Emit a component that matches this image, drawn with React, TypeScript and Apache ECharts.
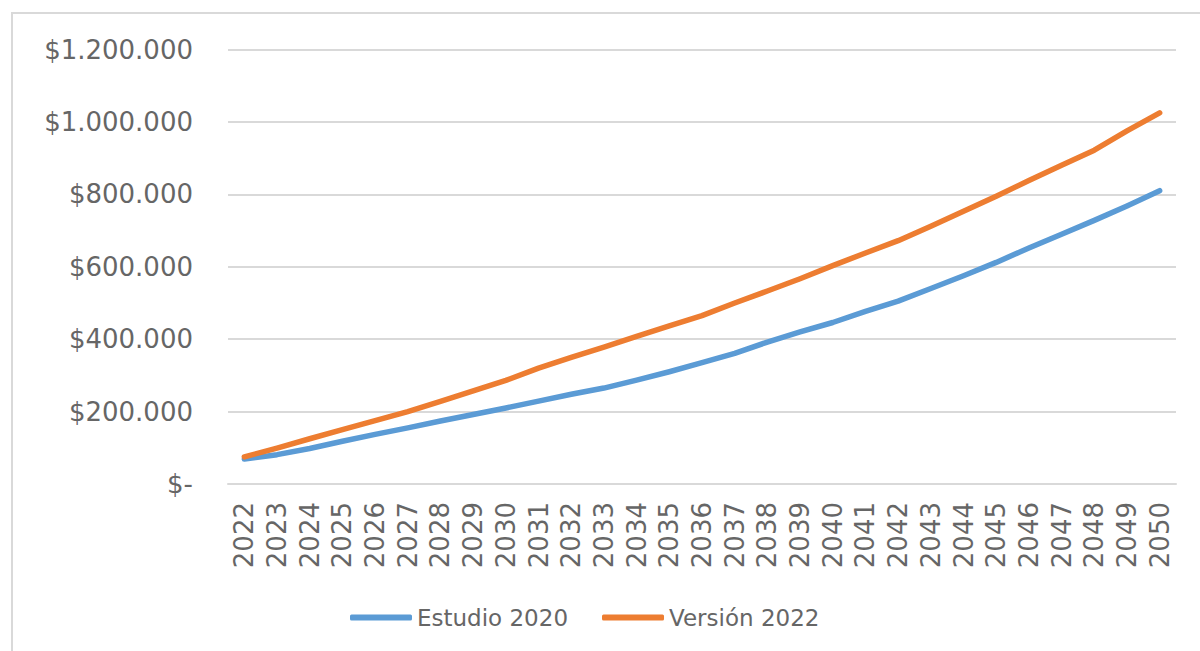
import React, { useEffect, useRef } from "react";
import * as echarts from "echarts";

const years = [
  "2022", "2023", "2024", "2025", "2026", "2027", "2028", "2029", "2030", "2031",
  "2032", "2033", "2034", "2035", "2036", "2037", "2038", "2039", "2040", "2041",
  "2042", "2043", "2044", "2045", "2046", "2047", "2048", "2049", "2050",
];

const estudio2020 = [
  69000, 81000, 98000, 118000, 137000, 155000, 174000, 192000, 210000, 229000,
  248000, 265000, 287000, 310000, 335000, 361000, 392000, 420000, 446000, 477000,
  505000, 540000, 575000, 612000, 652000, 690000, 728000, 768000, 810000,
];

const version2022 = [
  75000, 99000, 125000, 150000, 175000, 200000, 228000, 257000, 286000, 320000,
  350000, 378000, 408000, 437000, 465000, 500000, 533000, 567000, 603000, 638000,
  672000, 712000, 753000, 795000, 838000, 880000, 922000, 975000, 1025000,
];

const seriesNames = ["Estudio 2020", "Versión 2022"];
const yTicks = { min: 0, max: 1200000, interval: 200000 };

function fmt(v: number): string {
  if (v === 0) return "$-";
  const s = Math.round(v).toString().replace(/\B(?=(\d{3})+(?!\d))/g, ".");
  return "$" + s;
}

export default function App() {
  const ref = useRef<HTMLDivElement>(null);
  useEffect(() => {
    if (!ref.current) return;
    const chart = echarts.init(ref.current, null, { renderer: "svg" });
    const font = "DejaVu Sans";
    const gray = "#666666";
    chart.setOption({
      animation: false,
      backgroundColor: "#ffffff",
      graphic: [
        {
          type: "rect",
          shape: { x: 12, y: 13, width: 1200, height: 700 },
          style: { fill: "none", stroke: "#d9d9d9", lineWidth: 2 },
          silent: true,
        },
      ],
      grid: { left: 228, right: 24, top: 49.5, bottom: 167, containLabel: false },
      legend: {
        left: 345,
        top: 601,
        itemWidth: 62,
        itemHeight: 6,
        itemGap: 34,
        icon: "roundRect",
        data: seriesNames,
        textStyle: { fontFamily: font, fontSize: 23, color: gray },
      },
      xAxis: {
        type: "category",
        data: years,
        boundaryGap: true,
        axisLine: { show: true, lineStyle: { color: "#d9d9d9", width: 2 } },
        axisTick: { show: false },
        axisLabel: {
          rotate: 90,
          interval: 0,
          margin: 18,
          fontFamily: font,
          fontSize: 26,
          color: gray,
        },
      },
      yAxis: {
        type: "value",
        min: yTicks.min,
        max: yTicks.max,
        interval: yTicks.interval,
        axisLine: { show: false },
        axisTick: { show: false },
        splitLine: { lineStyle: { color: "#d9d9d9", width: 2 } },
        axisLabel: {
          margin: 35,
          fontFamily: font,
          fontSize: 26,
          color: gray,
          formatter: (v: number) => fmt(v),
        },
      },
      series: [
        {
          name: seriesNames[0],
          type: "line",
          data: estudio2020,
          symbol: "none",
          color: "#5B9BD5",
          lineStyle: { width: 5.5, color: "#5B9BD5", cap: "round", join: "round" },
        },
        {
          name: seriesNames[1],
          type: "line",
          data: version2022,
          symbol: "none",
          color: "#ED7D31",
          lineStyle: { width: 5.5, color: "#ED7D31", cap: "round", join: "round" },
        },
      ],
    });
    return () => chart.dispose();
  }, []);
  return (
    <div
      ref={ref}
      style={{ position: "fixed", left: 0, top: 0, width: 1200, height: 651 }}
    />
  );
}
